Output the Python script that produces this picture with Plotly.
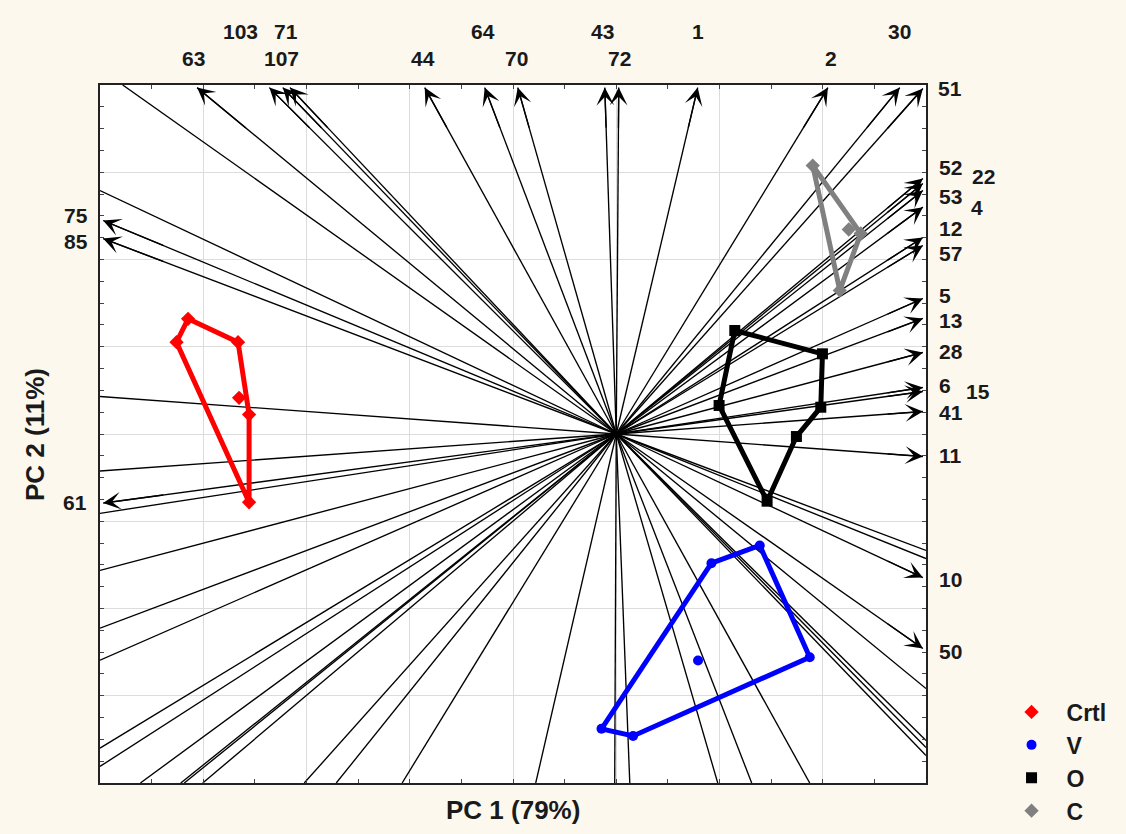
import plotly.graph_objects as go

# ---------------- data ----------------
# labelled loading vectors (arrow tips, PC1 / PC2 units)
arrow_names = ["63", "103", "71", "107", "44", "64", "70", "43", "72", "1", "2", "30", "51",
               "52", "22", "53", "4", "12", "57", "5", "13", "28", "6", "15", "41", "11",
               "10", "50", "75", "85", "61"]
arrow_x = [-4.06, -3.36, -3.23, -3.16, -1.855, -1.274, -0.954, -0.111, 0.024, 0.789, 2.05, 2.746, 2.97,
           2.97, 2.97, 2.97, 2.97, 2.97, 2.97, 2.97, 2.97, 2.97, 2.97, 2.97, 2.97, 2.97,
           2.97, 2.97, -4.97, -4.97, -4.97]
arrow_y = [3.97, 3.97, 3.97, 3.97, 3.97, 3.97, 3.97, 3.97, 3.97, 3.97, 3.97, 3.97, 3.96,
           2.928, 2.871, 2.791, 2.60, 2.252, 2.16, 1.553, 1.324, 0.934, 0.533, 0.487, 0.258, -0.258,
           -1.645, -2.458, 2.447, 2.24, -0.792]

# label positions for the variable names (same PC1 / PC2 units)
label_x = [-4.092, -3.637, -3.201, -3.240, -1.874, -1.293, -0.964, -0.131, 0.034, 0.789, 2.077, 2.746, 3.230,
           3.239, 3.559, 3.239, 3.491, 3.239, 3.239, 3.181, 3.239, 3.239, 3.181, 3.501, 3.239, 3.239,
           3.239, 3.239, -5.235, -5.235, -5.245]
label_y = [4.304, 4.613, 4.613, 4.304, 4.304, 4.613, 4.304, 4.613, 4.304, 4.613, 4.304, 4.613, 3.960,
           3.054, 2.951, 2.722, 2.596, 2.355, 2.069, 1.590, 1.300, 0.946, 0.555, 0.487, 0.245, -0.246,
           -1.668, -2.493, 2.500, 2.205, -0.785]

# unlabelled loading vectors (run past the plot frame)
other_x = [-4.78, -5.0, -5.0, -5.0, -5.0, -5.0, -5.0, -5.0, -5.0, -5.0,
           -4.609, -4.218, -4.184, -4.005, -3.022, -2.712, -2.074, -0.780, -0.015, 0.131, 0.983, 1.312, 1.874,
           3.0, 3.0, 3.0, 3.0, 3.0, 3.0]
other_y = [4.0, 2.79, 0.43, -0.424, -0.909, -1.564, -2.225, -2.593, -3.60, -3.81,
           -4.0, -4.0, -4.0, -4.0, -4.0, -4.0, -4.0, -4.0, -4.0, -4.0, -4.0, -4.0, -4.0,
           -1.335, -1.427, -2.917, -3.513, -3.593, -3.685]

# sample scores: outline (in drawing order) and inner points
crtl_x = [-4.147, -3.663, -3.556, -3.556, -4.259]
crtl_y = [1.320, 1.052, 0.223, -0.782, 1.052]
crtl_in_x = [-3.653]
crtl_in_y = [0.415]

v_x = [0.922, 1.390, 1.874, 0.163, -0.143]
v_y = [-1.481, -1.278, -2.558, -3.461, -3.379]
v_in_x = [0.792]
v_in_y = [-2.596]

o_x = [1.148, 1.997, 1.981, 1.745, 1.461, 0.996]
o_y = [1.186, 0.919, 0.307, -0.029, -0.770, 0.327]
o_in_x = []
o_in_y = []

c_x = [1.903, 2.368, 2.165]
c_y = [3.077, 2.298, 1.645]
c_in_x = [2.252]
c_in_y = [2.344]

X_RANGE = [-5, 3]
Y_RANGE = [-4, 4]

FONT = "Liberation Sans, Arial, sans-serif"
TXT = "#1a1a1a"

fig = go.Figure()

# all loading lines as one trace
lx, ly = [], []
for x, y in list(zip(arrow_x, arrow_y)) + list(zip(other_x, other_y)):
    lx += [0, x, None]
    ly += [0, y, None]
fig.add_trace(go.Scatter(x=lx, y=ly, mode="lines", line=dict(color="black", width=1.35),
                         hoverinfo="skip", showlegend=False))

groups = [
    ("Crtl", crtl_x, crtl_y, crtl_in_x, crtl_in_y, "#ff0000", "diamond", 11),
    ("V", v_x, v_y, v_in_x, v_in_y, "#0000ff", "circle", 10),
    ("O", o_x, o_y, o_in_x, o_in_y, "#000000", "square", 11),
    ("C", c_x, c_y, c_in_x, c_in_y, "#808080", "diamond", 11),
]
for name, gx, gy, ix, iy, col, sym, sz in groups:
    fig.add_trace(go.Scatter(x=gx + gx[:1], y=gy + gy[:1], mode="lines",
                             line=dict(color=col, width=5), hoverinfo="skip", showlegend=False))
    fig.add_trace(go.Scatter(x=gx + ix, y=gy + iy, mode="markers", name=name,
                             marker=dict(color=col, symbol=sym, size=sz)))


def to_paper_x(v):
    return (v - X_RANGE[0]) / (X_RANGE[1] - X_RANGE[0])


def to_paper_y(v):
    return (v - Y_RANGE[0]) / (Y_RANGE[1] - Y_RANGE[0])


annotations = []
for x, y in zip(arrow_x, arrow_y):
    annotations.append(dict(x=x, y=y, ax=0.88 * x, ay=0.88 * y, xref="x", yref="y",
                            axref="x", ayref="y", text="", showarrow=True, arrowhead=3,
                            arrowsize=2.2, arrowwidth=1.35, arrowcolor="black", standoff=0))
for name, x, y in zip(arrow_names, label_x, label_y):
    annotations.append(dict(x=to_paper_x(x), y=to_paper_y(y), xref="paper", yref="paper",
                            text=name, showarrow=False, xanchor="center", yanchor="middle",
                            font=dict(family=FONT, size=21, color=TXT, weight="bold")))
annotations.append(dict(x=0.5, y=-0.0387, xref="paper", yref="paper", text="PC 1 (79%)",
                        showarrow=False, xanchor="center", yanchor="middle",
                        font=dict(family=FONT, size=26, color=TXT, weight="bold")))
annotations.append(dict(x=-0.0787, y=0.5, xref="paper", yref="paper", text="PC 2 (11%)",
                        showarrow=False, xanchor="center", yanchor="middle", textangle=-90,
                        font=dict(family=FONT, size=26, color=TXT, weight="bold")))

axis_common = dict(showticklabels=False, showgrid=True, gridcolor="#dcdcdc", gridwidth=1.2,
                   zeroline=False, showline=True, linecolor="#222", linewidth=2, mirror="allticks",
                   ticks="inside", ticklen=4, tickcolor="#444", tickwidth=1)
fig.update_layout(
    width=1126, height=834,
    margin=dict(l=100, r=200, t=85, b=51, autoexpand=False),
    paper_bgcolor="#fcf8ee", plot_bgcolor="white",
    xaxis=dict(range=X_RANGE, dtick=1, tick0=0,
               minor=dict(dtick=0.5, ticks="inside", ticklen=4, tickcolor="#444", showgrid=False),
               **axis_common),
    yaxis=dict(range=Y_RANGE, dtick=1, tick0=0,
               minor=dict(dtick=0.25, ticks="inside", ticklen=4, tickcolor="#444", showgrid=False),
               **axis_common),
    legend=dict(x=1.0854, y=0.1325, xanchor="left", yanchor="top", bgcolor="rgba(0,0,0,0)",
                itemwidth=60,
                font=dict(family=FONT, size=23, color=TXT, weight="bold"), tracegroupgap=0),
    annotations=annotations,
    showlegend=True,
)

fig.write_html("out.html")
